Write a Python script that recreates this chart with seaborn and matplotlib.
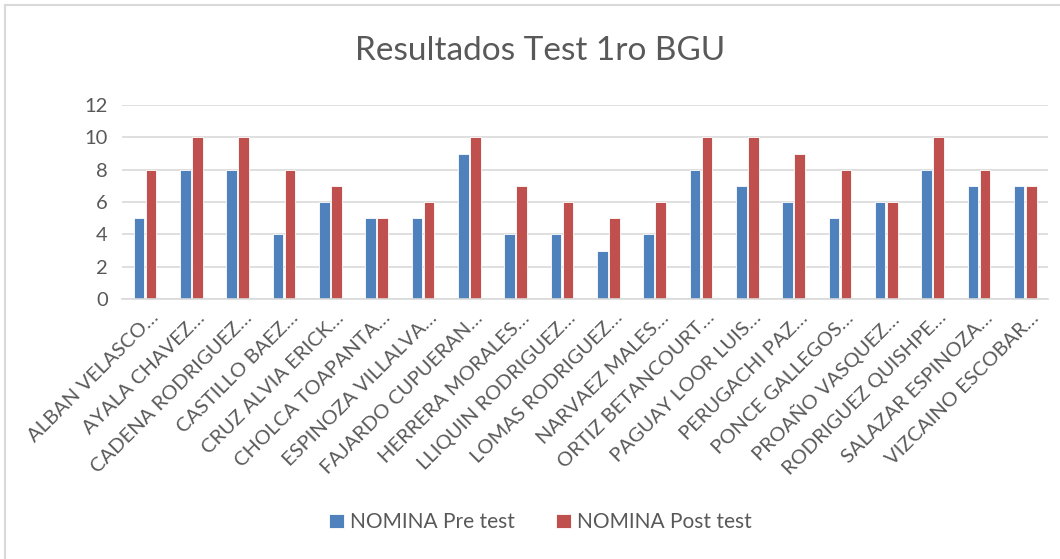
import matplotlib
matplotlib.use("Agg")
import matplotlib.pyplot as plt
import matplotlib.transforms as mtransforms
from matplotlib.lines import Line2D
import seaborn as sns
import pandas as pd

students = [
    "ALBAN VELASCO…", "AYALA CHAVEZ…", "CADENA RODRIGUEZ…", "CASTILLO BAEZ…",
    "CRUZ ALVIA ERICK…", "CHOLCA TOAPANTA…", "ESPINOZA VILLALVA…", "FAJARDO CUPUERAN…",
    "HERRERA MORALES…", "LLIQUIN RODRIGUEZ…", "LOMAS RODRIGUEZ…", "NARVAEZ MALES…",
    "ORTIZ BETANCOURT…", "PAGUAY LOOR LUIS…", "PERUGACHI PAZ…", "PONCE GALLEGOS…",
    "PROAÑO VASQUEZ…", "RODRIGUEZ QUISHPE…", "SALAZAR ESPINOZA…", "VIZCAINO ESCOBAR…",
]
pre_test = [5, 8, 8, 4, 6, 5, 5, 9, 4, 4, 3, 4, 8, 7, 6, 5, 6, 8, 7, 7]
post_test = [8, 10, 10, 8, 7, 5, 6, 10, 7, 6, 5, 6, 10, 10, 9, 8, 6, 10, 8, 7]
series_names = ["NOMINA Pre test", "NOMINA Post test"]
colors = ["#4F81BD", "#C0504D"]

df = pd.DataFrame({"alumno": students, series_names[0]: pre_test, series_names[1]: post_test})
long_df = df.melt(id_vars="alumno", var_name="serie", value_name="nota")

sns.set_style("white")
plt.rcParams["font.family"] = ["Lato", "DejaVu Sans"]
text_color = "#595959"
grid_color = "#D9D9D9"

fig = plt.figure(figsize=(10.6, 5.59), dpi=100)
ax = fig.add_axes([0.115, 0.465, 0.874, 0.347])

sns.barplot(data=long_df, x="alumno", y="nota", hue="serie", palette=colors,
            saturation=1, width=0.52, gap=0.12, edgecolor="white", linewidth=0.6, ax=ax)

ax.set_ylim(0, 12)
ax.set_yticks(range(0, 13, 2))
ax.set_xlim(-0.5, len(students) - 0.5)
ax.yaxis.grid(True, color=grid_color, linewidth=1.2)
ax.set_axisbelow(True)
for side in ["top", "right", "left"]:
    ax.spines[side].set_visible(False)
ax.spines["bottom"].set_color(grid_color)
ax.spines["bottom"].set_linewidth(1.2)
ax.tick_params(axis="both", length=0, colors=text_color, labelsize=14.5)
ax.tick_params(axis="y", pad=10)
ax.set_xlabel("")
ax.set_ylabel("")

# shift the rotated labels so their ends sit just right of each group, as in Excel
offset = mtransforms.ScaledTranslation(17 / 100, -5 / 100, fig.dpi_scale_trans)
for lbl in ax.get_xticklabels():
    lbl.set_rotation(45)
    lbl.set_ha("right")
    lbl.set_va("top")
    lbl.set_fontsize(14.5)
    lbl.set_transform(lbl.get_transform() + offset)

fig.suptitle("Resultados Test 1ro BGU", x=0.51, y=0.935, fontsize=24, color=text_color)

handles, labels = ax.get_legend_handles_labels()
ax.legend_.remove()
fig.legend(handles, labels, loc="center", bbox_to_anchor=(0.51, 0.066), ncol=2,
           frameon=False, fontsize=15, labelcolor=text_color,
           handlelength=0.7, handleheight=0.7, handletextpad=0.3, columnspacing=2.0)

# chart-area frame
fig.add_artist(Line2D([5 / 1060, 1], [1 - 5 / 559, 1 - 5 / 559], color=grid_color, linewidth=1.5))
fig.add_artist(Line2D([5 / 1060, 5 / 1060], [0, 1 - 5 / 559], color=grid_color, linewidth=1.5))

fig.savefig("out.png", dpi=100, facecolor="white")
plt.close(fig)
